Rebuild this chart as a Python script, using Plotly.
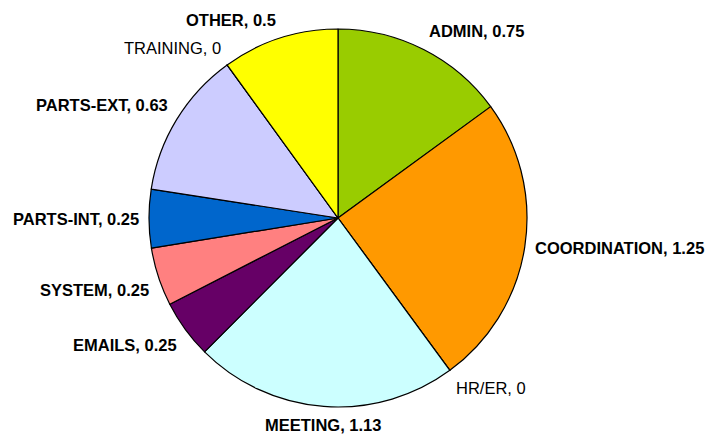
import math
import plotly.graph_objects as go

categories = ["ADMIN", "COORDINATION", "HR/ER", "MEETING", "EMAILS",
              "SYSTEM", "PARTS-INT", "PARTS-EXT", "TRAINING", "OTHER"]
values = [0.75, 1.25, 0, 1.13, 0.25, 0.25, 0.25, 0.63, 0, 0.5]
colors = ["#99CC00", "#FF9900", "#FFFFFF", "#CCFFFF", "#660066",
          "#FF8080", "#0066CC", "#CCCCFF", "#FFFFFF", "#FFFF00"]

W, H = 714, 436
CX, CY, R = 338, 218, 189
LABEL_R = 198
FONT = "Liberation Sans, Arial, sans-serif"

fig = go.Figure(go.Pie(
    labels=categories,
    values=values,
    sort=False,
    direction="clockwise",
    rotation=0,
    marker=dict(colors=colors, line=dict(color="#000000", width=1.2)),
    textinfo="none",
    hoverinfo="label+value",
    showlegend=False,
    domain=dict(x=[(CX - R) / W, (CX + R) / W],
                y=[(H - CY - R) / H, (H - CY + R) / H]),
))

total = sum(values)
cum = 0.0
annotations = []
for cat, v in zip(categories, values):
    mid = (cum + v / 2) / total
    cum += v
    ang = 2 * math.pi * mid
    s, c = math.sin(ang), math.cos(ang)
    px = CX + LABEL_R * s
    py = CY - LABEL_R * c
    xa = "left" if s > 0.3 else ("right" if s < -0.3 else "center")
    ya = "bottom" if c > 0.3 else ("top" if c < -0.3 else "middle")
    txt = f"{cat}, {v:g}"
    bold = v > 0
    annotations.append(dict(
        x=px / W, y=1 - py / H, xref="paper", yref="paper",
        text=f"<b>{txt}</b>" if bold else txt,
        showarrow=False, xanchor=xa, yanchor=ya,
        font=dict(family=FONT, size=16.5, color="#000000"),
        borderpad=0,
    ))

fig.update_layout(
    width=W, height=H,
    margin=dict(l=0, r=0, t=0, b=0),
    paper_bgcolor="#FFFFFF",
    plot_bgcolor="#FFFFFF",
    annotations=annotations,
)

fig.write_html(
    "out.html",
    config={"displayModeBar": False},
    post_script="document.body.style.margin='0';document.body.style.overflow='hidden';",
)
